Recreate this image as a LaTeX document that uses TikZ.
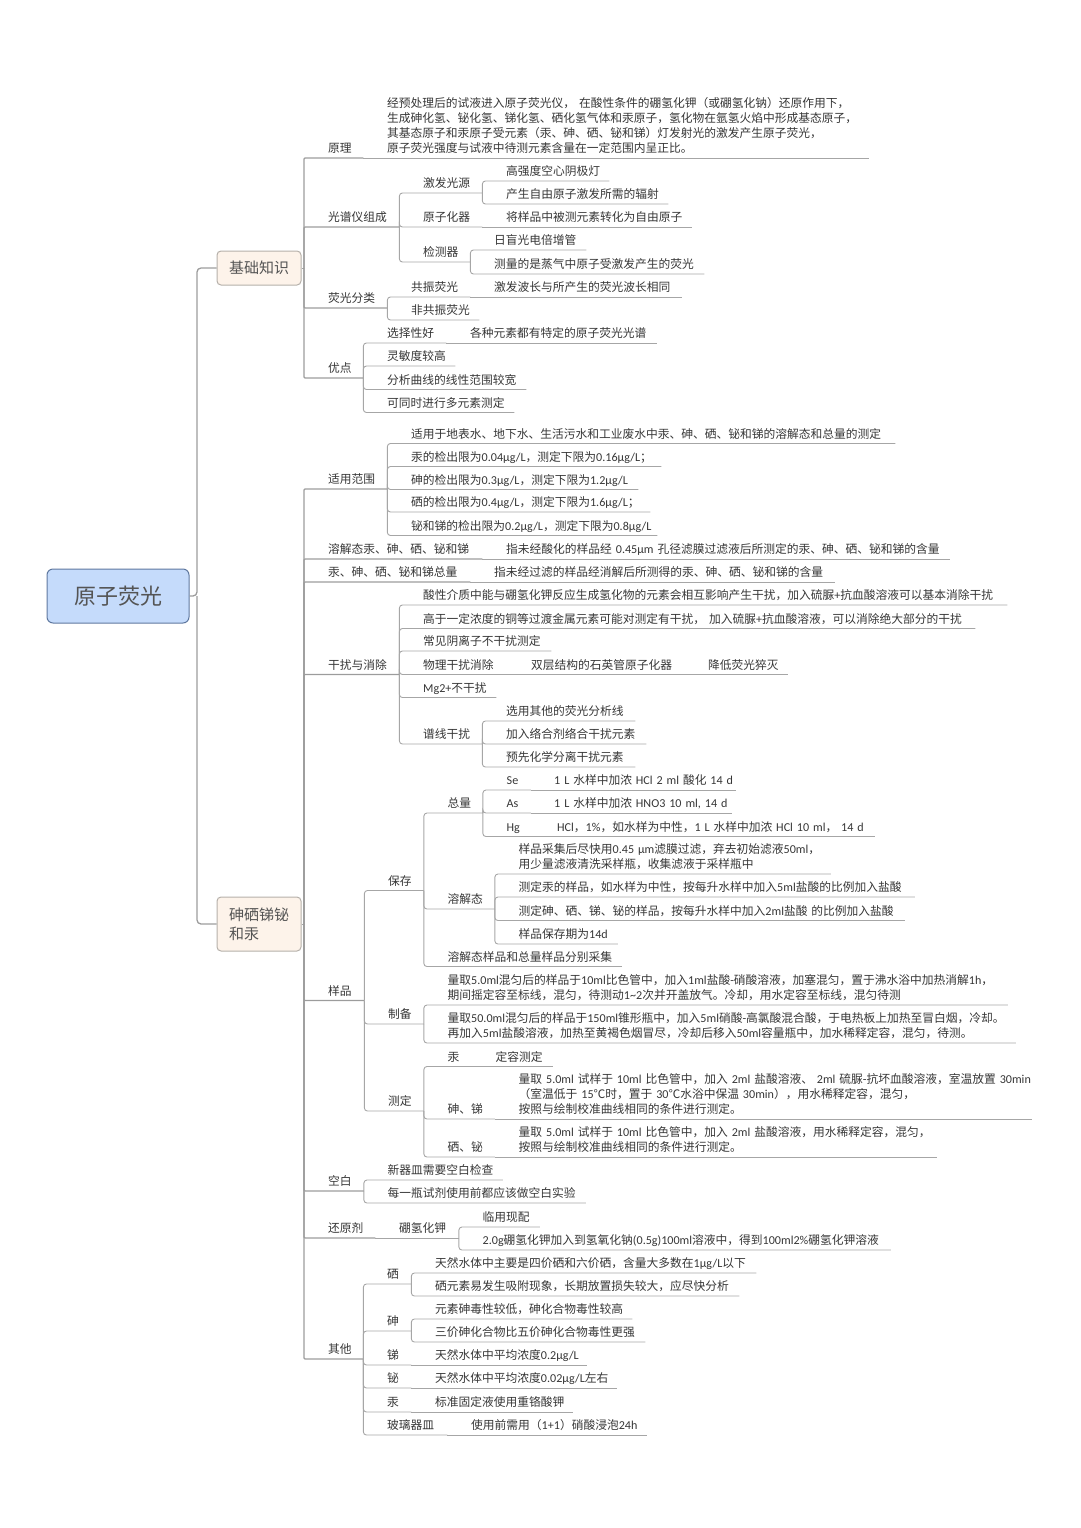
\documentclass[tikz,border=0pt]{standalone}
\usepackage{fontspec}
\setmainfont{Noto Sans CJK SC}
\newfontfamily\latfont[Scale=1.03,WordSpace=0.7]{Carlito}
\newcommand{\lat}[1]{{\latfont #1}}
\definecolor{linegray}{HTML}{A6A6A6}
\definecolor{trunkgray}{HTML}{9C9C9C}
\definecolor{inkgray}{HTML}{363636}
\definecolor{rootfill}{HTML}{C5DBFB}
\definecolor{rootline}{HTML}{5F789F}
\definecolor{topicfill}{HTML}{FDF3EA}
\definecolor{topicline}{HTML}{B5B0AA}
\tikzset{
  it/.style={anchor=south west, inner xsep=0pt, inner ysep=0.4pt, text width=#1, align=left,
    text=inkgray, font=\fontsize{11.75}{15}\selectfont,
    execute at begin node={\leftskip=24pt\relax}, execute at end node={\strut}},
  conn/.style={draw=linegray, line width=0.9pt, rounded corners=3pt},
  trunk/.style={draw=trunkgray, line width=1.3pt, rounded corners=4pt},
  spine/.style={draw=trunkgray, line width=1.2pt, rounded corners=1pt},
  rootbox/.style={draw=rootline, fill=rootfill, line width=1pt, rounded corners=6pt,
    minimum width=142pt, minimum height=54pt, text=inkgray!85, font=\fontsize{22}{26}\selectfont},
  topicbox/.style={draw=topicline, fill=topicfill, line width=1pt, rounded corners=4pt,
    minimum width=84pt, text=inkgray!85, font=\fontsize{15}{19}\selectfont}
}
\begin{document}
\begin{tikzpicture}[x=1pt,y=-1pt]
\useasboundingbox (0,0) rectangle (1080,1528);
\node[rootbox] (root) at (118,596) {原子荧光};
\node[topicbox, minimum height=34pt] (jc) at (259,268) {基础知识};
\node[topicbox, minimum height=54pt, text width=60pt, align=left] (ys) at (259,924) {砷硒锑铋\\和汞};
\coordinate (rj) at (197,596);
\coordinate (jcs) at (304,268);
\coordinate (yss) at (304,924);

% basics
\node[it=59] (yl) at (304,158) {原理};
\node[it=506] (yl1) at (363,158) {经预处理后的试液进入原子荧光仪， 在酸性条件的硼氢化钾（或硼氢化钠）还原作用下，\\生成砷化氢、铋化氢、锑化氢、硒化氢气体和汞原子，氢化物在氩氢火焰中形成基态原子，\\其基态原子和汞原子受元素（汞、砷、硒、铋和锑）灯发射光的激发产生原子荧光，\\原子荧光强度与试液中待测元素含量在一定范围内呈正比。};
\node[it=95] (gp) at (304,227) {光谱仪组成};
\node[it=83] (jf) at (399,193) {激发光源};
\node[it=127] (jf1) at (482,181) {高强度空心阴极灯};
\node[it=186] (jf2) at (482,204) {产生自由原子激发所需的辐射};
\node[it=83] (yz) at (399,227) {原子化器};
\node[it=210] (yz1) at (482,227) {将样品中被测元素转化为自由原子};
\node[it=71] (jq) at (399,262) {检测器};
\node[it=116] (jq1) at (470,250) {日盲光电倍增管};
\node[it=234] (jq2) at (470,274) {测量的是蒸气中原子受激发产生的荧光};
\node[it=83] (fl) at (304,308) {荧光分类};
\node[it=83] (gz) at (387,297) {共振荧光};
\node[it=212] (gz1) at (470,297) {激发波长与所产生的荧光波长相同};
\node[it=92] (fg) at (387,320) {非共振荧光};
\node[it=59] (yd) at (304,378) {优点};
\node[it=83] (xz) at (363,343) {选择性好};
\node[it=211] (xz1) at (446,343) {各种元素都有特定的原子荧光光谱};
\node[it=92] (lm) at (363,366) {灵敏度较高};
\node[it=163] (fx) at (363,389.5) {分析曲线的线性范围较宽};
\node[it=151] (dy) at (363,412.5) {可同时进行多元素测定};

% scope of use
\node[it=83] (sy) at (304,489) {适用范围};
\node[it=508] (sy1) at (387,443.5) {适用于地表水、地下水、生活污水和工业废水中汞、砷、硒、铋和锑的溶解态和总量的测定};
\node[it=274] (sy2) at (387,466.5) {汞的检出限为\lat{0.04μg/L}，测定下限为\lat{0.16μg/L}；};
\node[it=251] (sy3) at (387,489.5) {砷的检出限为\lat{0.3μg/L}，测定下限为\lat{1.2μg/L}};
\node[it=263] (sy4) at (387,512) {硒的检出限为\lat{0.4μg/L}，测定下限为\lat{1.6μg/L}；};
\node[it=270] (sy5) at (387,535.5) {铋和锑的检出限为\lat{0.2μg/L}，测定下限为\lat{0.8μg/L}};
\node[it=178] (rj1) at (304,559) {溶解态汞、砷、硒、铋和锑};
\node[it=468] (rj2) at (482,559) {指未经酸化的样品经 \lat{0.45μm} 孔径滤膜过滤液后所测定的汞、砷、硒、铋和锑的含量};
\node[it=166] (zl1) at (304,582) {汞、砷、硒、铋和锑总量};
\node[it=365] (zl2) at (470,582) {指未经过滤的样品经消解后所测得的汞、砷、硒、铋和锑的含量};

% interference
\node[it=95] (gr) at (304,674.5) {干扰与消除};
\node[it=608] (gr1) at (399,605) {酸性介质中能与硼氢化钾反应生成氢化物的元素会相互影响产生干扰，加入硫脲\lat{+}抗血酸溶液可以基本消除干扰};
\node[it=576] (gr2) at (399,628.5) {高于一定浓度的铜等过渡金属元素可能对测定有干扰， 加入硫脲\lat{+}抗血酸溶液，可以消除绝大部分的干扰};
\node[it=152] (gr3) at (399,651) {常见阴离子不干扰测定};
\node[it=108] (gr4) at (399,674.5) {物理干扰消除};
\node[it=177] (gr5) at (507,674.5) {双层结构的石英管原子化器};
\node[it=104] (gr6) at (684,674.5) {降低荧光猝灭};
\node[it=97] (gr7) at (399,697.5) {\lat{Mg2+}不干扰};
\node[it=83] (px) at (399,744) {谱线干扰};
\node[it=153] (px1) at (482,721) {选用其他的荧光分析线};
\node[it=164] (px2) at (482,744) {加入络合剂络合干扰元素};
\node[it=153] (px3) at (482,767) {预先化学分离干扰元素};

% samples
\node[it=60] (yp) at (304,1000.5) {样品};
\node[it=59.5] (bc) at (364,890.5) {保存};
\node[it=59] (zo) at (423.5,813) {总量};
\node[it=48] (se) at (482.5,790) {\lat{Se}};
\node[it=206] (se1) at (530,790) {\lat{1 L }水样中加浓\lat{ HCl 2 ml }酸化\lat{ 14 d}};
\node[it=48] (as) at (482.5,813) {\lat{As}};
\node[it=202] (as1) at (530,813) {\lat{1 L }水样中加浓\lat{ HNO3 10 ml, 14 d}};
\node[it=50] (hg) at (482.5,836.5) {\lat{Hg}};
\node[it=342] (hg1) at (533,836.5) {\lat{HCl}，\lat{1\%}，如水样为中性，\lat{1 L }水样中加浓\lat{ HCl 10 ml}，\lat{ 14 d}};
\node[it=71] (rt) at (423.5,909) {溶解态};
\node[it=336] (rt1) at (494.5,874) {样品采集后尽快用\lat{0.45 μm}滤膜过滤，弃去初始滤液\lat{50ml}，\\用少量滤液清洗采样瓶，收集滤液于采样瓶中};
\node[it=420] (rt2) at (494.5,897) {测定汞的样品，如水样为中性，按每升水样中加入\lat{5ml}盐酸的比例加入盐酸};
\node[it=410] (rt3) at (494.5,920.5) {测定砷、硒、锑、铋的样品，按每升水样中加入\lat{2ml}盐酸 的比例加入盐酸};
\node[it=123] (rt4) at (494.5,944) {样品保存期为\lat{14d}};
\node[it=198] (fb) at (423.5,966.5) {溶解态样品和总量样品分别采集};
\node[it=59.5] (zb) at (364,1024) {制备};
\node[it=584] (zb1) at (423.5,1005) {量取\lat{5.0ml}混匀后的样品于\lat{10ml}比色管中，加入\lat{1ml}盐酸\lat{-}硝酸溶液，加塞混匀，置于沸水浴中加热消解\lat{1h}，\\期间摇定容至标线，混匀，待测动\lat{1\textasciitilde 2}次并开盖放气。冷却，用水定容至标线，混匀待测};
\node[it=592] (zb2) at (423.5,1043) {量取\lat{50.0ml}混匀后的样品于\lat{150ml}锥形瓶中，加入\lat{5ml}硝酸\lat{-}高氯酸混合酸，于电热板上加热至冒白烟，冷却。\\再加入\lat{5ml}盐酸溶液，加热至黄褐色烟冒尽，冷却后移入\lat{50ml}容量瓶中，加水稀释定容，混匀，待测。};
\node[it=59.5] (cd) at (364,1111) {测定};
\node[it=48] (cg) at (423.5,1066.5) {汞};
\node[it=81] (cg1) at (471.5,1066.5) {定容测定};
\node[it=71] (cs) at (423.5,1119) {砷、锑};
\node[it=537] (cs1) at (494.5,1119) {量取\lat{ 5.0ml }试样于\lat{ 10ml }比色管中，加入\lat{ 2ml }盐酸溶液、\lat{ 2ml }硫脲\lat{-}抗坏血酸溶液，室温放置\lat{ 30min}\\（室温低于\lat{ 15}℃时，置于\lat{ 30}℃水浴中保温\lat{ 30min}），用水稀释定容，混匀，\\按照与绘制校准曲线相同的条件进行测定。};
\node[it=71] (cx) at (423.5,1157) {硒、铋};
\node[it=442] (cx1) at (494.5,1157) {量取\lat{ 5.0ml }试样于\lat{ 10ml }比色管中，加入\lat{ 2ml }盐酸溶液，用水稀释定容，混匀，\\按照与绘制校准曲线相同的条件进行测定。};

% blank, reductant
\node[it=59.5] (kb) at (304,1191) {空白};
\node[it=139] (kb1) at (363.5,1180) {新器皿需要空白检查};
\node[it=222] (kb2) at (363.5,1203) {每一瓶试剂使用前都应该做空白实验};
\node[it=71] (hy) at (304,1238) {还原剂};
\node[it=83.5] (pq) at (375,1238) {硼氢化钾};
\node[it=81] (pq1) at (458.5,1227) {临用现配};
\node[it=432] (pq2) at (458.5,1250) {\lat{2.0g}硼氢化钾加入到氢氧化钠\lat{(0.5g)100ml}溶液中，得到\lat{100ml2\%}硼氢化钾溶液};

% others
\node[it=59] (qt) at (304,1359) {其他};
\node[it=48] (x1) at (363,1284) {硒};
\node[it=345] (x1a) at (411,1273) {天然水体中主要是四价硒和六价硒，含量大多数在\lat{1μg/L}以下};
\node[it=328] (x1b) at (411,1296) {硒元素易发生吸附现象，长期放置损失较大，应尽快分析};
\node[it=48] (x2) at (363,1331) {砷};
\node[it=221] (x2a) at (411,1319) {元素砷毒性较低，砷化合物毒性较高};
\node[it=234] (x2b) at (411,1342) {三价砷化合物比五价砷化合物毒性更强};
\node[it=48] (x3) at (363,1365) {锑};
\node[it=176] (x3a) at (411,1365) {天然水体中平均浓度\lat{0.2μg/L}};
\node[it=48] (x4) at (363,1388) {铋};
\node[it=206] (x4a) at (411,1388) {天然水体中平均浓度\lat{0.02μg/L}左右};
\node[it=48] (x5) at (363,1412) {汞};
\node[it=162] (x5a) at (411,1412) {标准固定液使用重铬酸钾};
\node[it=84] (x6) at (363,1435) {玻璃器皿};
\node[it=200] (x6a) at (447,1435) {使用前需用（\lat{1+1}）硝酸浸泡\lat{24h}};

% connectors
\draw[trunk] (root.east) -- (rj) |- (jc.west);
\draw[trunk] (rj) |- (ys.west);
\draw[conn] (jc.east) -- (jcs);
\draw[conn] (ys.east) -- (yss);
\foreach \kid in {yl,gp,fl,yd}{\draw[spine] (jcs) |- (\kid.south east);}
\foreach \kid in {sy,rj1,zl1,gr,yp,kb,hy,qt}{\draw[spine] (yss) |- (\kid.south east);}
\foreach \up/\kid in {gp/jf,gp/yz,gp/jq,jf/jf1,jf/jf2,jq/jq1,jq/jq2,fl/gz,fl/fg,yd/xz,yd/lm,yd/fx,yd/dy,
  sy/sy1,sy/sy2,sy/sy3,sy/sy4,sy/sy5,gr/gr1,gr/gr2,gr/gr3,gr/gr4,gr/gr7,gr/px,px/px1,px/px2,px/px3,
  yp/bc,yp/zb,yp/cd,bc/zo,bc/rt,bc/fb,zo/se,zo/as,zo/hg,rt/rt1,rt/rt2,rt/rt3,rt/rt4,zb/zb1,zb/zb2,
  cd/cg,cd/cs,cd/cx,kb/kb1,kb/kb2,pq/pq1,pq/pq2,qt/x1,qt/x2,qt/x3,qt/x4,qt/x5,qt/x6,
  x1/x1a,x1/x1b,x2/x2a,x2/x2b}{
  \draw[conn] (\up.south east) |- (\kid.south east);
}
\foreach \up/\kid in {yl/yl1,yz/yz1,gz/gz1,xz/xz1,rj1/rj2,zl1/zl2,gr4/gr5,gr5/gr6,se/se1,as/as1,hg/hg1,
  cg/cg1,cs/cs1,cx/cx1,hy/pq,x3/x3a,x4/x4a,x5/x5a,x6/x6a}{
  \draw[conn] (\up.south east) -- (\kid.south east);
}
\end{tikzpicture}
\end{document}
